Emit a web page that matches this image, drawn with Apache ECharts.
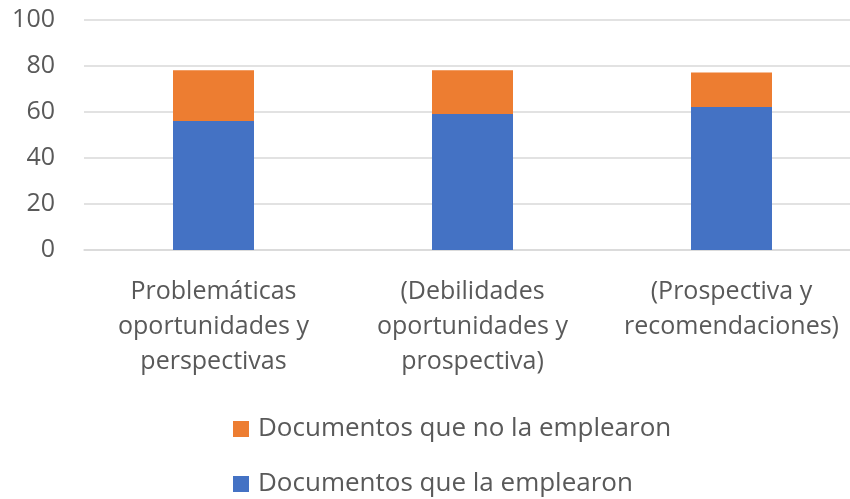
<!DOCTYPE html>
<html>
<head>
<meta charset="utf-8">
<script src="https://cdn.jsdelivr.net/npm/echarts@6/dist/echarts.min.js"></script>
<style>
    html, body { margin: 0; padding: 0; background: #fff; }
    #chart { width: 850px; height: 499px; }
</style>
</head>
<body>
<div id="chart"></div>
<script>
    const categories = [
        'Problemáticas\noportunidades y\nperspectivas',
        '(Debilidades\noportunidades y\nprospectiva)',
        '(Prospectiva y\nrecomendaciones)'
    ];
    const usedValues = [56, 59, 62];      // Documentos que la emplearon
    const notUsedValues = [22, 19, 15];   // Documentos que no la emplearon
    const yTicks = { min: 0, max: 100, interval: 20 };

    const chart = echarts.init(document.getElementById('chart'));
    const font = '"Open Sans", sans-serif';
    let option = {
        animation: false,
        grid: {
            left: 84,
            top: 19.5,
            width: 777,
            height: 230.5,
            outerBoundsMode: 'none'
        },
        legend: {
            orient: 'vertical',
            left: 233,
            top: 414,
            padding: 0,
            itemWidth: 16,
            itemHeight: 16,
            itemGap: 25,
            icon: 'rect',
            data: ['Documentos que no la emplearon', 'Documentos que la emplearon'],
            textStyle: { fontFamily: font, fontSize: 26, color: '#595959', lineHeight: 30, padding: [0, 0, 0, 4] }
        },
        xAxis: {
            type: 'category',
            data: categories,
            axisLine: { lineStyle: { color: '#d9d9d9', width: 1.5 } },
            axisTick: { show: false },
            axisLabel: {
                interval: 0,
                margin: 24,
                fontFamily: font,
                fontSize: 25,
                lineHeight: 35,
                color: '#595959'
            }
        },
        yAxis: {
            type: 'value',
            min: yTicks.min,
            max: yTicks.max,
            interval: yTicks.interval,
            axisLine: { show: false },
            axisTick: { show: false },
            splitLine: { lineStyle: { color: '#d9d9d9', width: 1.5 } },
            axisLabel: {
                margin: 29,
                fontFamily: font,
                fontSize: 25,
                color: '#595959'
            }
        },
        series: [
            {
                name: 'Documentos que la emplearon',
                type: 'bar',
                stack: 'total',
                barWidth: 81,
                data: usedValues,
                itemStyle: { color: '#4472c4' }
            },
            {
                name: 'Documentos que no la emplearon',
                type: 'bar',
                stack: 'total',
                barWidth: 81,
                data: notUsedValues,
                itemStyle: { color: '#ed7d31' }
            }
        ]
    };
    chart.setOption(option);
</script>
</body>
</html>
